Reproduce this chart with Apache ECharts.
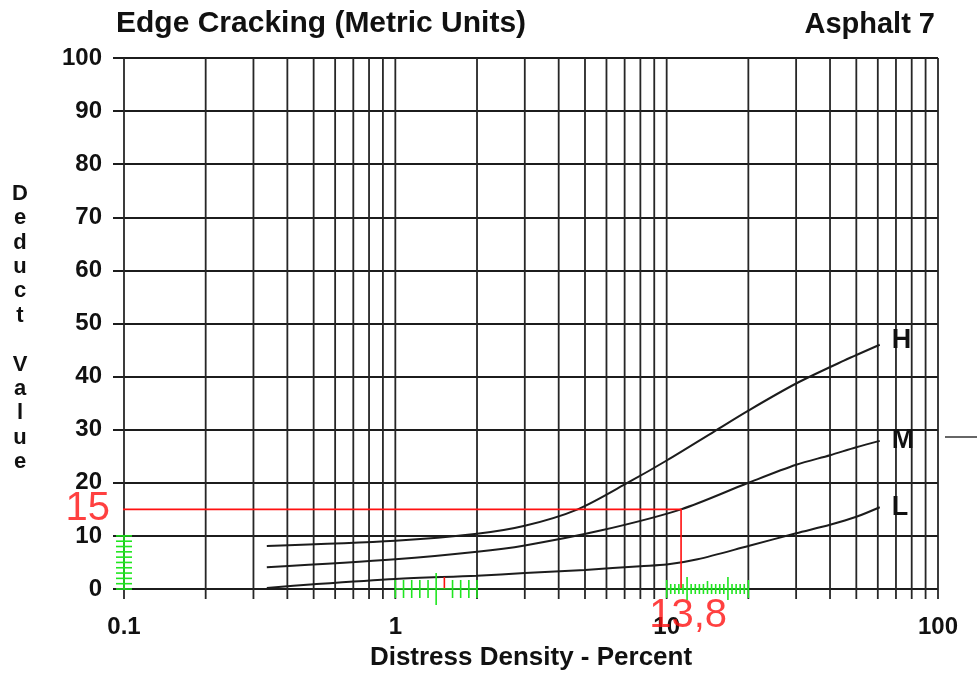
<!DOCTYPE html>
<html><head><meta charset="utf-8">
<script src="https://cdn.jsdelivr.net/npm/echarts@6/dist/echarts.min.js"></script>
<style>html,body{margin:0;padding:0;background:#fff}#c{width:977px;height:678px}</style>
</head><body><div id="c"></div>
<script>
// ---- text ----
const titleText = 'Edge Cracking (Metric Units)';
const subTitleText = 'Asphalt 7';
const xAxisName = 'Distress Density - Percent';
const yAxisNameLetters = ['D','e','d','u','c','t','','V','a','l','u','e'];
const xTickLabels = [0.1, 1, 10, 100];

// ---- log grid lines (x values) ----
const gridX = [0.1,0.2,0.3,0.4,0.5,0.6,0.7,0.8,0.9,
               1,2,3,4,5,6,7,8,9,
               10,20,30,40,50,60,70,80,90,100];

// ---- curves (Distress density %, Deduct value) ----
const curveNames = ['H','M','L'];
const hCurve = [[0.336,8.1],[1,9.1],[2,10.4],[3,11.9],[4.7,15],[7.3,20.2],[10,24.2],[15,29.7],[20,33.6],[30,38.7],[45,43],[61,46]];
const mCurve = [[0.336,4.1],[1,5.6],[2,7.0],[3,8.2],[5.7,11.0],[11.3,15],[20,20],[30,23.4],[40,25.2],[50,26.7],[61,27.9]];
const lCurve = [[0.336,0.2],[0.5,0.9],[1,1.9],[2,2.5],[3,3.0],[5,3.6],[8,4.3],[10,4.6],[13,5.6],[20,8.1],[30,10.5],[40,12.1],[50,13.6],[61,15.4]];

// ---- red reading annotation ----
const redPath = [[0.091,15],[11.3,15],[11.3,0]];
const redLabelPoints = [[0.1,15],[11.3,0]];
const redLabelTexts = ['15','13,8'];

// ---- green hand-drawn rulers ----
const rulerYValues = [0,1,2,3,4,5,6,7,8,9,10];          // at x = 0.1
const rulerYSpine = [[0.1,0],[0.1,10]];
const rulerLowX = [1,1.072,1.149,1.231,1.32,1.414,1.516,1.625,1.741,1.866,2];
const rulerLowSpine = [[1,0],[2,0]];
const rulerHighX = [10,10.35,10.72,11.09,11.49,11.89,12.31,12.75,13.2,13.66,14.14,14.64,15.16,15.69,16.24,16.82,17.41,18.03,18.66,19.32,20];
const rulerHighSpine = [[10,0],[20,0]];

const FONT = '"Liberation Sans", Arial, Helvetica, sans-serif';
const GREEN = '#1fe61f';
const RED = '#ff1010';
const INK = '#1c1c1c';

const chart = echarts.init(document.getElementById('c'), null, {renderer:'canvas'});

function gridRender(params, api) {
  const v = api.value(0);
  const top = api.coord([v, 100]);
  const bot = api.coord([v, 0]);
  return {type:'line', shape:{x1:top[0], y1:top[1], x2:bot[0], y2:bot[1]+10},
          style:{stroke:'#262626', lineWidth:1.8}};
}
function rulerXRender(kind) {
  return function(params, api) {
    const i = params.dataIndex;
    const n = params.dataInsideLength;
    const p = api.coord([api.value(0), api.value(1)]);
    let up = 5, dn = 5, col = GREEN;
    if (kind === 'low') {
      up = 9; dn = 9;
      if (i === 5) { up = 16; dn = 16; }
      if (i === 6) { col = RED; up = 12; dn = 0; }
    } else {
      if (i === 0 || i === n - 1) { up = 9; dn = 9; }
      if (i === 5 || i === 15) { up = 12; dn = 11; }
      if (i === 10) { up = 8; dn = 5; }
    }
    return {type:'line', shape:{x1:p[0], y1:p[1]-up, x2:p[0], y2:p[1]+dn},
            style:{stroke:col, lineWidth:1.6}};
  };
}
function rulerYRender(params, api) {
  const p = api.coord([0.1, api.value(0)]);
  return {type:'line', shape:{x1:p[0]-8, y1:p[1], x2:p[0]+8, y2:p[1]},
          style:{stroke:GREEN, lineWidth:1.6}};
}
function curveSeries(name, data, offY) {
  return {
    name, type:'line', data, smooth:0.3, showSymbol:false, symbol:'none',
    lineStyle:{color:INK, width:2}, z:5,
    endLabel:{show:true, formatter:name, distance:12, offset:[0,offY],
              fontFamily:FONT, fontWeight:'bold', fontSize:27, color:'#111'}
  };
}

const option = {
  animation:false,
  backgroundColor:'#fff',
  title:[
    {text:titleText, left:116, top:9, padding:0,
     textStyle:{fontFamily:FONT, fontWeight:'bold', fontSize:30, color:'#111'}},
    {text:subTitleText, right:42, top:10, padding:0,
     textStyle:{fontFamily:FONT, fontWeight:'bold', fontSize:29, color:'#111'}}
  ],
  grid:{left:124, right:39, top:58, bottom:89, containLabel:false},
  xAxis:{
    type:'log', logBase:10, min:0.1, max:100, splitNumber:3,
    name:xAxisName, nameLocation:'middle', nameGap:56,
    nameTextStyle:{fontFamily:FONT, fontWeight:'bold', fontSize:26, color:'#111'},
    axisLine:{show:false}, axisTick:{show:false}, splitLine:{show:false},
    axisLabel:{margin:26, fontFamily:FONT, fontWeight:'bold', fontSize:24, color:'#111',
      showMinLabel:true, showMaxLabel:true,
      formatter:function(v){ const r = Number(Number(v).toPrecision(3));
        return xTickLabels.indexOf(r) >= 0 ? String(r) : ''; }}
  },
  yAxis:{
    type:'value', min:0, max:100, interval:10,
    axisLine:{show:false},
    axisTick:{show:true, length:11, lineStyle:{color:INK, width:2}},
    splitLine:{show:true, lineStyle:{color:INK, width:2}},
    axisLabel:{margin:22, fontFamily:FONT, fontWeight:'bold', fontSize:24, color:'#111'}
  },
  graphic:[
    {type:'text', x:20, y:328, z:10,
     style:{text:yAxisNameLetters.join('\n'), textAlign:'center', textVerticalAlign:'middle',
            lineHeight:24.4, fontFamily:FONT, fontWeight:'bold', fontSize:22, fill:'#111'}},
    {type:'line', shape:{x1:945, y1:437, x2:977, y2:437}, style:{stroke:'#333', lineWidth:1.5}}
  ],
  series:[
    {type:'custom', name:'gridX', data:gridX.map(v=>[v,0]), renderItem:gridRender, clip:false, z:1, silent:true},
    curveSeries(curveNames[0], hCurve, -4),
    curveSeries(curveNames[1], mCurve, 0),
    curveSeries(curveNames[2], lCurve, 0),
    {type:'line', name:'reading', data:redPath, showSymbol:false, symbol:'none', clip:false,
     lineStyle:{color:RED, width:1.6}, z:6},
    {type:'scatter', name:'readingLabels', symbolSize:0, z:7,
     data:redLabelPoints.map((p,i)=>({value:p, label:{
       show:true, formatter:redLabelTexts[i],
       position: i===0 ? 'left' : 'bottom',
       distance: i===0 ? 14 : 7,
       offset: i===0 ? [0,0] : [7,0],
       fontFamily:FONT, fontSize:40, color:RED}}))},
    {type:'line', name:'rulerYSpine', data:rulerYSpine, showSymbol:false, symbol:'none', clip:false,
     lineStyle:{color:GREEN, width:1.6}, z:8},
    {type:'custom', name:'rulerY', data:rulerYValues.map(v=>[v]), renderItem:rulerYRender, clip:false, z:8,
     encode:{y:0}},
    {type:'line', name:'rulerLowSpine', data:rulerLowSpine, showSymbol:false, symbol:'none',
     lineStyle:{color:GREEN, width:1.6}, z:8},
    {type:'custom', name:'rulerLow', data:rulerLowX.map(v=>[v,0]), renderItem:rulerXRender('low'), clip:false, z:8},
    {type:'line', name:'rulerHighSpine', data:rulerHighSpine, showSymbol:false, symbol:'none',
     lineStyle:{color:GREEN, width:1.6}, z:8},
    {type:'custom', name:'rulerHigh', data:rulerHighX.map(v=>[v,0]), renderItem:rulerXRender('high'), clip:false, z:8}
  ]
};
chart.setOption(option);
</script>
</body></html>
